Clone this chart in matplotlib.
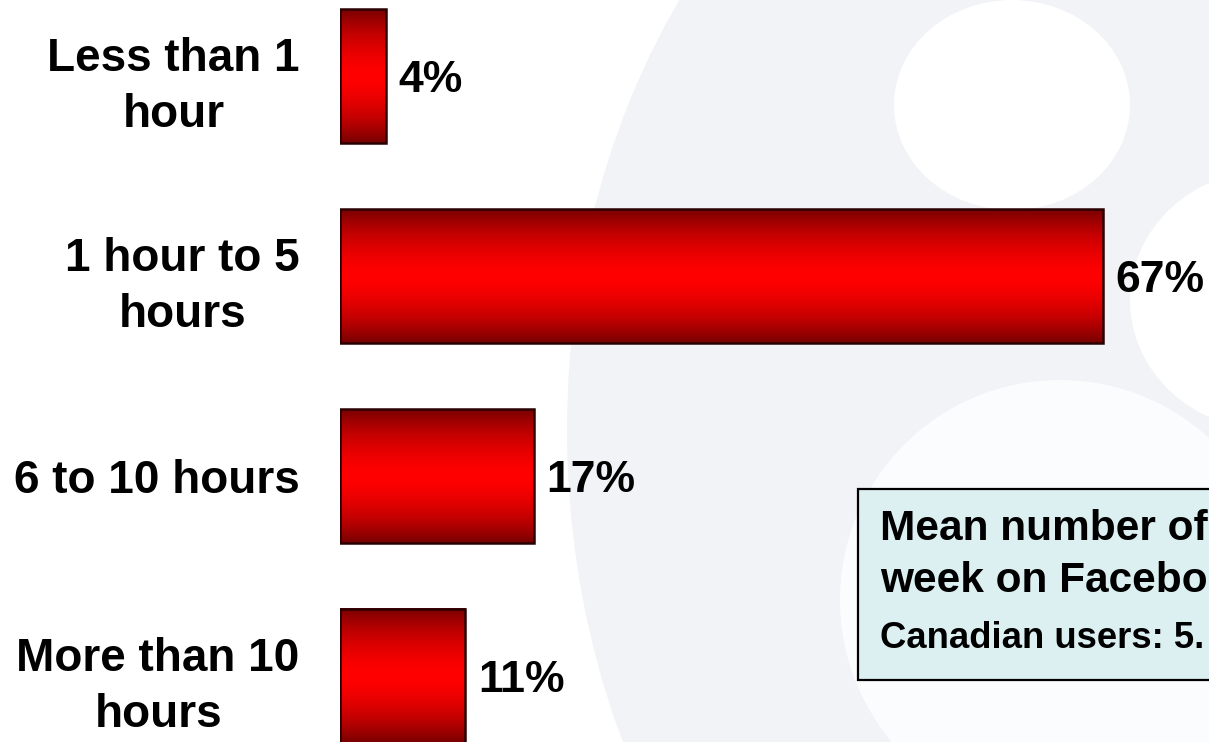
import numpy as np
import matplotlib.pyplot as plt
from matplotlib.patches import Ellipse, Rectangle
from matplotlib.colors import LinearSegmentedColormap

plt.rcParams['font.family'] = ['Liberation Sans', 'DejaVu Sans']
plt.rcParams['font.weight'] = 'bold'

categories = ["Less than 1\nhour", "1 hour to 5\nhours", "6 to 10 hours", "More than 10\nhours"]
shares = [4, 67, 17, 11]

box_title = ["Mean number of", "week on Facebook"]
box_note = "Canadian users: 5."

W, H = 1209, 742
fig = plt.figure(figsize=(W / 100, H / 100), dpi=100)

# background layer in pixel units: faint watermark and the note box
bg = fig.add_axes([0, 0, 1, 1])
bg.set_xlim(0, W)
bg.set_ylim(H, 0)
bg.axis('off')
bg.add_patch(Ellipse((1100, 430), 1066, 1400, color='#f1f3f6', lw=0, zorder=0))
bg.add_patch(Ellipse((1012, 105), 236, 210, color='white', lw=0, zorder=1))
bg.add_patch(Ellipse((1060, 600), 440, 440, color='#fbfcfd', lw=0, zorder=1))
bg.add_patch(Ellipse((1270, 300), 280, 260, color='white', lw=0, zorder=1))

bg.add_patch(Rectangle((858, 489), 420, 191, facecolor='#dcf0f2',
                       edgecolor='black', lw=1.6, zorder=5))
bg.text(880, 540, box_title[0], fontsize=30.5, va='baseline', zorder=6)
bg.text(880, 592, box_title[1], fontsize=30.5, va='baseline', zorder=6)
bg.text(880, 648, box_note, fontsize=26.3, va='baseline', zorder=6)

# bar chart axes
px_per_pct = 763 / 67
ax = fig.add_axes([340 / W, 0, (W - 340) / W, 1])
ax.patch.set_alpha(0)
ax.set_xlim(0, (W - 340) / px_per_pct)
ax.set_ylim(3 + 66 / 200, -76 / 200)

y = np.arange(len(shares))
bar_h = 0.67
bars = ax.barh(y, shares, height=bar_h, facecolor='none',
               edgecolor='#2a0000', linewidth=1.8, zorder=3)

# vertical red gradient, dark at the edges and bright in the middle
cmap = LinearSegmentedColormap.from_list('redbar', ['#780000', '#c00000', '#ff0000'])
t = np.linspace(-1, 1, 200)
grad = (1 - np.abs(t) ** 1.6)[:, None]
for rect in bars:
    x0, y0 = rect.get_x(), rect.get_y()
    ax.imshow(grad, cmap=cmap, aspect='auto', interpolation='bilinear',
              extent=(x0, x0 + rect.get_width(), y0 + rect.get_height(), y0),
              zorder=2)

for i, v in enumerate(shares):
    ax.annotate(f"{v}%", (v, i), xytext=(9, -3), textcoords='offset points',
                ha='left', va='center', fontsize=32)

ax.set_yticks(y, categories, fontsize=33)
for lab in ax.get_yticklabels():
    lab.set_multialignment('center')
    lab.set_linespacing(1.35)
ax.tick_params(axis='y', length=0, pad=29)
ax.set_xticks([])
for s in ax.spines.values():
    s.set_visible(False)

fig.savefig('out.png', dpi=100)
